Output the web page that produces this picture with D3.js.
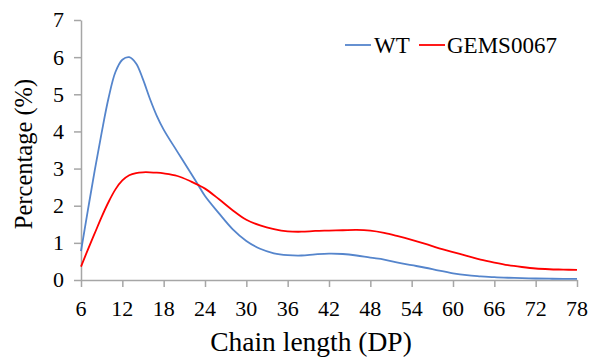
<!DOCTYPE html>
<html>
<head>
<meta charset="utf-8">
<script src="https://cdn.jsdelivr.net/npm/d3@7"></script>
<style>
  html, body { margin: 0; padding: 0; background: #fff; }
  svg { display: block; }
  .lbl { font-family: 'Liberation Serif', 'Times New Roman', serif; fill: #000; }
</style>
</head>
<body>
<svg id="chart" width="598" height="357"></svg>
<script>
const dp = [6,7,8,9,10,11,12,13,14,15,16,17,18,20,22,23,24,26,28,30,32,34,36,38,40,42,44,46,48,50,52,54,56,58,60,62,64,66,68,70,72,74,76,78];
const wt = [0.78,1.88,2.96,3.97,4.9,5.6,5.93,6.0,5.83,5.4,4.88,4.42,4.05,3.45,2.86,2.56,2.26,1.8,1.37,1.05,0.84,0.72,0.67,0.66,0.69,0.71,0.70,0.66,0.60,0.55,0.47,0.40,0.33,0.25,0.18,0.13,0.10,0.075,0.06,0.05,0.04,0.035,0.03,0.03];
const gems = [0.36,0.82,1.26,1.7,2.1,2.44,2.68,2.82,2.88,2.9,2.9,2.89,2.87,2.8,2.65,2.56,2.46,2.18,1.88,1.62,1.47,1.37,1.31,1.30,1.32,1.33,1.34,1.35,1.33,1.27,1.18,1.08,0.97,0.85,0.75,0.65,0.55,0.47,0.40,0.35,0.31,0.29,0.28,0.27];
const xTicks = [6,12,18,24,30,36,42,48,54,60,66,72,78];
const yTicks = [0,1,2,3,4,5,6,7];
const seriesNames = ["WT","GEMS0067"];
const seriesColors = ["#5585cc","#ff0000"];

const svg = d3.select("#chart");
const x = d3.scaleLinear().domain([6,78]).range([81,577]);
const y = d3.scaleLinear().domain([0,7]).range([280,20]);
const axisColor = "#a6a6a6";

// Y axis (lines)
const yAxis = svg.append("g").attr("transform","translate(81,0)")
  .call(d3.axisLeft(y).tickValues(yTicks).tickFormat("").tickSize(7).tickSizeOuter(0));
yAxis.selectAll("path, line").attr("stroke",axisColor).attr("stroke-width",1.5);
// Y labels
svg.append("g").selectAll("text").data(yTicks).join("text")
  .attr("class","lbl").attr("x",64).attr("y",d=>y(d)).attr("dy","0.34em")
  .attr("text-anchor","end").attr("font-size",22).text(d=>d3.format("d")(d));

// X axis (lines)
const xAxis = svg.append("g").attr("transform","translate(0,280)")
  .call(d3.axisBottom(x).tickValues(xTicks).tickFormat("").tickSize(7).tickSizeOuter(0));
xAxis.selectAll("path, line").attr("stroke",axisColor).attr("stroke-width",1.5);
// X labels
svg.append("g").selectAll("text").data(xTicks).join("text")
  .attr("class","lbl").attr("x",d=>x(d)).attr("y",316)
  .attr("text-anchor","middle").attr("font-size",22).text(d=>d3.format("d")(d));

// Titles
svg.append("text").attr("class","lbl").attr("x",311).attr("y",351).attr("text-anchor","middle")
  .attr("font-size",27.5).text("Chain length (DP)");
svg.append("text").attr("class","lbl").attr("transform","translate(32,154) rotate(-90)").attr("text-anchor","middle")
  .attr("font-size",24.5).text("Percentage (%)");

// Lines
const line = d3.line().x((d,i)=>x(dp[i])).y(d=>y(d)).curve(d3.curveCatmullRom.alpha(0.5));
[wt,gems].forEach((s,k)=>{
  svg.append("path").datum(s).attr("d",line).attr("fill","none")
    .attr("stroke",seriesColors[k]).attr("stroke-width",1.8);
});

// Legend
const legendPos = [{lx:345, tx:374},{lx:419, tx:447}];
seriesNames.forEach((n,k)=>{
  svg.append("line").attr("x1",legendPos[k].lx).attr("x2",legendPos[k].lx+26)
    .attr("y1",45).attr("y2",45).attr("stroke",seriesColors[k]).attr("stroke-width",1.8);
  svg.append("text").attr("class","lbl").attr("x",legendPos[k].tx).attr("y",53)
    .attr("font-size",23).text(n);
});
</script>
</body>
</html>
